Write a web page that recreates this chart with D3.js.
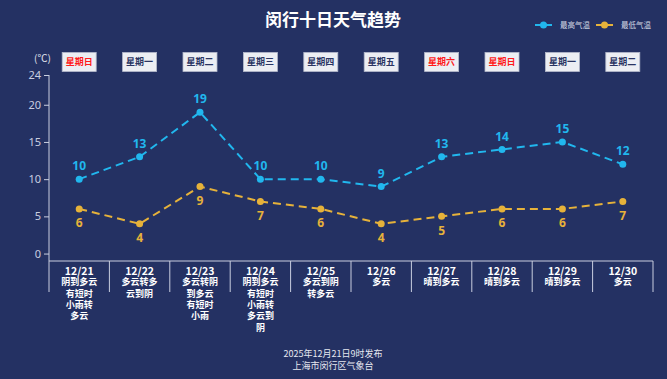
<!DOCTYPE html>
<html>
<head>
<meta charset="utf-8">
<script src="https://cdn.jsdelivr.net/npm/d3@7/dist/d3.min.js"></script>
<style>
  html, body { margin: 0; padding: 0; background: #243163; }
  svg { display: block; font-family: "Noto Sans CJK SC", "Noto Sans", sans-serif; }
</style>
</head>
<body>
<svg id="chart" width="667" height="379"></svg>
<script>
// 数据
var dates = ["12/21", "12/22", "12/23", "12/24", "12/25", "12/26", "12/27", "12/28", "12/29", "12/30"];
var weekdays = ["星期日", "星期一", "星期二", "星期三", "星期四", "星期五", "星期六", "星期日", "星期一", "星期二"];
var weather = [
  "阴到多云\n有短时\n小雨转\n多云",
  "多云转多\n云到阴",
  "多云转阴\n到多云\n有短时\n小雨",
  "阴到多云\n有短时\n小雨转\n多云到\n阴",
  "多云到阴\n转多云",
  "多云",
  "晴到多云",
  "晴到多云",
  "晴到多云",
  "多云"
];
var highTemp = [10, 13, 19, 10, 10, 9, 13, 14, 15, 12];
var lowTemp = [6, 4, 9, 7, 6, 4, 5, 6, 6, 7];
var yTicks = [0, 5, 10, 15, 20, 24];

var svg = d3.select("#chart"),
    margin = {top: 75, right: 14, bottom: 118, left: 49},
    width = +svg.attr("width") - margin.left - margin.right,
    height = +svg.attr("height") - margin.top - margin.bottom,
    g = svg.append("g").attr("transform", "translate(" + margin.left + "," + margin.top + ")");

var blue = "#21b7ee", yellow = "#e6b23a", axisColor = "#c9cee0";

var x = d3.scaleBand().domain(dates).range([0, width]);
var y = d3.scaleLinear().domain([-1, 24]).range([height, 0]);

// 标题
svg.append("text")
    .attr("x", 333).attr("y", 26)
    .attr("text-anchor", "middle")
    .attr("fill", "#fff")
    .attr("font-size", 17)
    .attr("font-weight", "bold")
    .text("闵行十日天气趋势");

// 图例
var legendData = [{name: "最高气温", color: blue, x: 535}, {name: "最低气温", color: yellow, x: 596}];
var legend = svg.append("g").selectAll("g").data(legendData).enter().append("g")
    .attr("transform", function(d) { return "translate(" + d.x + ",25)"; });
legend.append("line").attr("x1", 0).attr("x2", 17).attr("stroke", function(d) { return d.color; }).attr("stroke-width", 2);
legend.append("circle").attr("cx", 8.5).attr("r", 3.5).attr("fill", function(d) { return d.color; });
legend.append("text").attr("x", 25).attr("dy", "0.35em")
    .attr("fill", "#d5d9e6").attr("font-size", 7.5)
    .text(function(d) { return d.name; });

// 单位
svg.append("text")
    .attr("x", 34).attr("y", 58).attr("dy", "0.35em")
    .attr("fill", "#e0e3ee").attr("font-size", 10)
    .text("(℃)");

// 星期标签
var wk = g.append("g").selectAll("g").data(weekdays).enter().append("g")
    .attr("transform", function(d, i) { return "translate(" + (x(dates[i]) + x.bandwidth() / 2) + "," + (-13) + ")"; });
wk.append("rect")
    .attr("x", -17).attr("y", -9.5).attr("width", 34).attr("height", 19)
    .attr("fill", "#eceef3").attr("stroke", "#b5bacb").attr("stroke-width", 0.8);
wk.append("text")
    .attr("text-anchor", "middle").attr("dy", "0.35em")
    .attr("font-size", 9).attr("font-weight", "bold")
    .attr("fill", function(d, i) { return (d == "星期日" || d == "星期六") ? "#ff1a1a" : "#2a3462"; })
    .text(function(d) { return d; });

// Y轴
var yAxis = g.append("g")
    .call(d3.axisLeft(y).tickValues(yTicks).tickSize(5).tickPadding(3));
yAxis.select(".domain").attr("stroke", axisColor).attr("d", "M0," + y(24) + "V" + height);
yAxis.selectAll(".tick line").attr("stroke", axisColor);
yAxis.selectAll("text").attr("fill", axisColor).attr("font-size", 11).attr("font-family", "Noto Sans, sans-serif");

// X轴
g.append("line")
    .attr("x1", 0).attr("x2", width).attr("y1", height).attr("y2", height)
    .attr("stroke", axisColor).attr("stroke-width", 1);
g.append("g").selectAll("line").data(d3.range(dates.length + 1)).enter().append("line")
    .attr("x1", function(i) { return i * x.step(); })
    .attr("x2", function(i) { return i * x.step(); })
    .attr("y1", height).attr("y2", height + 31)
    .attr("stroke", axisColor);

// 日期 + 天气描述
var xl = g.append("g").selectAll("g").data(dates).enter().append("g")
    .attr("transform", function(d) { return "translate(" + (x(d) + x.bandwidth() / 2) + "," + (height + 10) + ")"; });
xl.append("text")
    .attr("text-anchor", "middle").attr("dy", "0.35em")
    .attr("fill", "#fff").attr("font-weight", "bold").attr("font-size", 10.5)
    .text(function(d) { return d; });
xl.each(function(d, i) {
    d3.select(this).selectAll(".wx").data(weather[i].split("\n")).enter().append("text")
        .attr("class", "wx")
        .attr("y", function(l, j) { return (j + 1) * 11.3; })
        .attr("dy", "0.35em")
        .attr("text-anchor", "middle")
        .attr("fill", "#fff").attr("font-weight", "bold").attr("font-size", 9)
        .text(function(l) { return l; });
});

// 折线
var series = [
    {values: highTemp, color: blue, above: true},
    {values: lowTemp, color: yellow, above: false}
];
var line = d3.line()
    .x(function(d, i) { return x(dates[i]) + x.bandwidth() / 2; })
    .y(function(d) { return y(d); });

series.forEach(function(s) {
    g.append("path")
        .datum(s.values)
        .attr("d", line)
        .attr("fill", "none")
        .attr("stroke", s.color)
        .attr("stroke-width", 2)
        .attr("stroke-dasharray", "8,5");
    g.append("g").selectAll("circle").data(s.values).enter().append("circle")
        .attr("cx", function(d, i) { return x(dates[i]) + x.bandwidth() / 2; })
        .attr("cy", function(d) { return y(d); })
        .attr("r", 3.5)
        .attr("fill", s.color);
    g.append("g").selectAll("text").data(s.values).enter().append("text")
        .attr("x", function(d, i) { return x(dates[i]) + x.bandwidth() / 2; })
        .attr("y", function(d) { return y(d) + (s.above ? -13 : 14); })
        .attr("dy", "0.35em")
        .attr("text-anchor", "middle")
        .attr("fill", s.color)
        .attr("font-size", 12)
        .attr("font-weight", "bold")
        .attr("font-family", "Noto Sans, sans-serif")
        .text(function(d) { return d; });
});

// 发布信息
svg.append("text")
    .attr("x", 333).attr("y", 354).attr("dy", "0.35em")
    .attr("text-anchor", "middle").attr("fill", "#e6e8f0").attr("font-size", 9)
    .text("2025年12月21日9时发布");
svg.append("text")
    .attr("x", 333).attr("y", 366).attr("dy", "0.35em")
    .attr("text-anchor", "middle").attr("fill", "#e6e8f0").attr("font-size", 9)
    .text("上海市闵行区气象台");
</script>
</body>
</html>
